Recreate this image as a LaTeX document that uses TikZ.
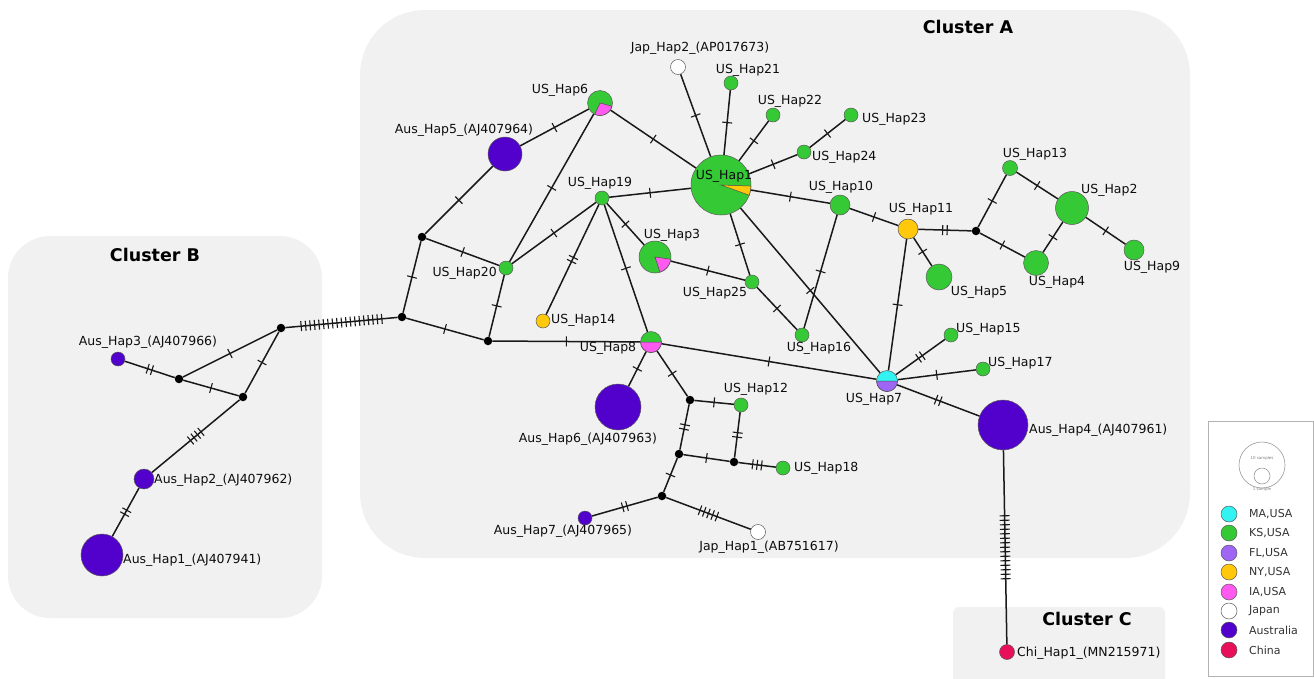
\documentclass[tikz,border=0pt]{standalone}
\usepackage{fontspec}
\setmainfont{DejaVu Sans}
\usetikzlibrary{decorations.markings,calc}
\definecolor{panelgray}{HTML}{F1F1F1}
\definecolor{mac}{HTML}{33F2F2}
\definecolor{ksc}{HTML}{36C936}
\definecolor{flc}{HTML}{9F66F5}
\definecolor{nyc}{HTML}{FFC80A}
\definecolor{iac}{HTML}{FF5AF0}
\definecolor{ausc}{HTML}{5200CC}
\definecolor{chic}{HTML}{E8105A}
\begin{document}
\begin{tikzpicture}[x=1pt,y=-1pt,
  edge/.style={draw=black!90, line width=1.5pt},
  hap/.style={circle, draw=black!65, line width=0.5pt, inner sep=0pt, minimum size=#1},
  med/.style={circle, fill=black, inner sep=0pt, minimum size=8.5pt},
  lab/.style={font=\fontsize{12.5}{13}\selectfont, text=black!95, inner sep=0pt},
  ttl/.style={font=\fontsize{17.5}{18}\selectfont\bfseries, inner sep=0pt},
  leg/.style={font=\fontsize{11}{12}\selectfont, text=black!80, inner sep=0pt, anchor=west},
  mut/.style={postaction={decorate,decoration={markings,mark=at position 0.5 with {\foreach \k in {1,...,#1}{\draw[line width=1.1pt,black!90] ({(\k-(#1+1)/2)*4.5pt},-5pt) -- ++(0,10pt);}}}}}
]
\useasboundingbox (0,0) rectangle (1314,678);
% panels
\fill[panelgray, rounded corners=42pt] (8,236) rectangle (322,618);
\fill[panelgray, rounded corners=65pt] (360,10) rectangle (1190,558);
\fill[panelgray, rounded corners=6pt] (953,607) rectangle (1165,690);
\node[ttl] (tB) at (155,255) {Cluster B};
\node[ttl] (tA) at (968,27) {Cluster A};
\node[ttl] (tC) at (1087,619) {Cluster C};

% ---- nodes: cluster B
\node[hap=14pt, fill=ausc] (aus3) at (118,359) {};
\node[med] (b1) at (179,379) {};
\node[med] (b2) at (243,397) {};
\node[med] (b3) at (281,328) {};
\node[hap=20pt, fill=ausc] (aus2) at (144,479) {};
\node[hap=42pt, fill=ausc] (aus1) at (102,555) {};
% ---- cluster A
\node[med] (b4) at (402,317) {};
\node[med] (a1) at (422,237) {};
\node[med] (a3) at (488,341) {};
\node[hap=34pt, fill=ausc] (aus5) at (505,154) {};
\node[hap=25pt, fill=ksc] (h6) at (600,103) {};
\node[hap=14pt, fill=ksc] (h20) at (506,268) {};
\node[hap=14pt, fill=ksc] (h19) at (602,198) {};
\node[hap=60pt, fill=ksc] (h1) at (721,185) {};
\node[hap=14pt, fill=nyc] (h14) at (543,321) {};
\node[hap=32pt, fill=ksc] (h3) at (655,257) {};
\node[hap=21pt, fill=ksc] (h8) at (651,342) {};
\node[hap=14pt, fill=ksc] (h25) at (752,282) {};
\node[hap=15pt, fill=white] (jap2) at (678,67) {};
\node[hap=14pt, fill=ksc] (h21) at (731,83) {};
\node[hap=14pt, fill=ksc] (h22) at (773,115) {};
\node[hap=14pt, fill=ksc] (h23) at (851,115) {};
\node[hap=14pt, fill=ksc] (h24) at (804,152) {};
\node[hap=20pt, fill=ksc] (h10) at (840,205) {};
\node[hap=20pt, fill=nyc] (h11) at (908,229) {};
\node[med] (a4) at (976,231) {};
\node[hap=15pt, fill=ksc] (h13) at (1010,168) {};
\node[hap=33pt, fill=ksc] (h2) at (1072,208) {};
\node[hap=25pt, fill=ksc] (h4) at (1036,263) {};
\node[hap=20pt, fill=ksc] (h9) at (1134,250) {};
\node[hap=26pt, fill=ksc] (h5) at (939,277) {};
\node[hap=14pt, fill=ksc] (h16) at (802,335) {};
\node[hap=14pt, fill=ksc] (h15) at (951,335) {};
\node[hap=14pt, fill=ksc] (h17) at (983,369) {};
\node[hap=21pt, fill=mac] (h7) at (887,381) {};
\node[hap=50pt, fill=ausc] (aus4) at (1003,425) {};
\node[hap=46pt, fill=ausc] (aus6) at (618,407) {};
\node[med] (c1) at (690,400) {};
\node[hap=14pt, fill=ksc] (h12) at (741,405) {};
\node[med] (c2) at (679,454) {};
\node[med] (c3) at (734,462) {};
\node[hap=14pt, fill=ksc] (h18) at (783,468) {};
\node[med] (c4) at (662,496) {};
\node[hap=14pt, fill=ausc] (aus7) at (585,518) {};
\node[hap=15pt, fill=white] (jap1) at (758,532) {};
% ---- cluster C
\node[hap=15pt, fill=chic] (chi1) at (1007,652) {};

% ---- edges
\draw[edge, mut=2] (aus3) -- (b1);
\draw[edge, mut=1] (b1) -- (b3);
\draw[edge, mut=1] (b1) -- (b2);
\draw[edge, mut=1] (b2) -- (b3);
\draw[edge, mut=4] (b2) -- (aus2);
\draw[edge, mut=2] (aus2) -- (aus1);
\draw[edge, mut=19] (b3) -- (b4);
\draw[edge, mut=1] (b4) -- (a1);
\draw[edge, mut=1] (b4) -- (a3);
\draw[edge, mut=1] (a1) -- (aus5);
\draw[edge, mut=1] (a1) -- (h20);
\draw[edge, mut=1] (aus5) -- (h6);
\draw[edge, mut=1] (h6) -- (h20);
\draw[edge, mut=1] (h6) -- (h1);
\draw[edge, mut=1] (h20) -- (a3);
\draw[edge, mut=1] (h20) -- (h19);
\draw[edge, mut=1] (h19) -- (h1);
\draw[edge, mut=2] (h19) -- (h14);
\draw[edge, mut=1] (h19) -- (h3);
\draw[edge, mut=1] (h19) -- (h8);
\draw[edge, mut=1] (a3) -- (h8);
\draw[edge, mut=1] (h3) -- (h25);
\draw[edge, mut=1] (h1) -- (jap2);
\draw[edge, mut=1] (h1) -- (h21);
\draw[edge, mut=1] (h1) -- (h22);
\draw[edge, mut=1] (h1) -- (h24);
\draw[edge, mut=1] (h24) -- (h23);
\draw[edge, mut=1] (h1) -- (h10);
\draw[edge, mut=1] (h1) -- (h25);
\draw[edge, mut=1] (h1) -- (h7);
\draw[edge, mut=1] (h25) -- (h16);
\draw[edge, mut=1] (h10) -- (h16);
\draw[edge, mut=1] (h10) -- (h11);
\draw[edge, mut=2] (h11) -- (a4);
\draw[edge, mut=1] (h11) -- (h5);
\draw[edge, mut=1] (h11) -- (h7);
\draw[edge, mut=1] (a4) -- (h13);
\draw[edge, mut=1] (a4) -- (h4);
\draw[edge, mut=1] (h13) -- (h2);
\draw[edge, mut=1] (h4) -- (h2);
\draw[edge, mut=1] (h2) -- (h9);
\draw[edge, mut=1] (h8) -- (h7);
\draw[edge, mut=2] (h7) -- (h15);
\draw[edge, mut=1] (h7) -- (h17);
\draw[edge, mut=2] (h7) -- (aus4);
\draw[edge, mut=15] (aus4) -- (chi1);
\draw[edge, mut=1] (h8) -- (aus6);
\draw[edge, mut=1] (h8) -- (c1);
\draw[edge, mut=1] (c1) -- (h12);
\draw[edge, mut=2] (c1) -- (c2);
\draw[edge, mut=2] (h12) -- (c3);
\draw[edge, mut=1] (c2) -- (c3);
\draw[edge, mut=3] (c3) -- (h18);
\draw[edge, mut=1] (c2) -- (c4);
\draw[edge, mut=2] (c4) -- (aus7);
\draw[edge, mut=5] (c4) -- (jap1);

% ---- pie slices
\filldraw[fill=nyc, draw=black!70, line width=0.5pt] (h1.center) -- ++(-20:30pt) arc[start angle=-20, end angle=-2, radius=30pt] -- cycle;
\filldraw[fill=iac, draw=black!70, line width=0.5pt] (h6.center) -- ++(-115:12.5pt) arc[start angle=-115, end angle=-15, radius=12.5pt] -- cycle;
\filldraw[fill=iac, draw=black!70, line width=0.5pt] (h3.center) -- ++(-72:16pt) arc[start angle=-72, end angle=-8, radius=16pt] -- cycle;
\filldraw[fill=iac, draw=black!70, line width=0.5pt] ($(h8.center)+(-10.5pt,0pt)$) arc[start angle=180, end angle=360, radius=10.5pt] -- cycle;
\filldraw[fill=flc, draw=black!70, line width=0.5pt] ($(h7.center)+(-10.5pt,0pt)$) arc[start angle=180, end angle=360, radius=10.5pt] -- cycle;

% ---- labels
\node[lab] (lAus3) at (148,342) {Aus\_Hap3\_(AJ407966)};
\node[lab, anchor=west] (lAus2) at (154,480) {Aus\_Hap2\_(AJ407962)};
\node[lab, anchor=west] (lAus1) at (123,560) {Aus\_Hap1\_(AJ407941)};
\node[lab] (lJap2) at (700,48) {Jap\_Hap2\_(AP017673)};
\node[lab] (l21) at (748,70) {US\_Hap21};
\node[lab] (l22) at (790,101) {US\_Hap22};
\node[lab, anchor=west] (l23) at (862,119) {US\_Hap23};
\node[lab, anchor=west] (l24) at (812,157) {US\_Hap24};
\node[lab] (l6) at (560,90) {US\_Hap6};
\node[lab] (lAus5) at (464,130) {Aus\_Hap5\_(AJ407964)};
\node[lab] (l1) at (724,176) {US\_Hap1};
\node[lab] (l19) at (600,183) {US\_Hap19};
\node[lab] (l3) at (672,235) {US\_Hap3};
\node[lab, anchor=east] (l20) at (497,273) {US\_Hap20};
\node[lab] (l25) at (715,293) {US\_Hap25};
\node[lab, anchor=west] (l14) at (551,320) {US\_Hap14};
\node[lab] (l8) at (608,348) {US\_Hap8};
\node[lab] (l10) at (841,187) {US\_Hap10};
\node[lab] (l11) at (921,209) {US\_Hap11};
\node[lab] (l13) at (1035,154) {US\_Hap13};
\node[lab, anchor=west] (l2) at (1081,190) {US\_Hap2};
\node[lab] (l4) at (1057,282) {US\_Hap4};
\node[lab] (l9) at (1152,267) {US\_Hap9};
\node[lab] (l5) at (979,292) {US\_Hap5};
\node[lab] (l16) at (819,348) {US\_Hap16};
\node[lab, anchor=west] (l15) at (956,329) {US\_Hap15};
\node[lab, anchor=west] (l17) at (988,363) {US\_Hap17};
\node[lab] (l7) at (874,399) {US\_Hap7};
\node[lab, anchor=west] (lAus4) at (1029,430) {Aus\_Hap4\_(AJ407961)};
\node[lab, anchor=west] (lChi) at (1017,653) {Chi\_Hap1\_(MN215971)};
\node[lab] (l12) at (756,389) {US\_Hap12};
\node[lab] (lAus6) at (588,439) {Aus\_Hap6\_(AJ407963)};
\node[lab, anchor=west] (l18) at (794,468) {US\_Hap18};
\node[lab] (lAus7) at (563,531) {Aus\_Hap7\_(AJ407965)};
\node[lab] (lJap1) at (769,547) {Jap\_Hap1\_(AB751617)};

% ---- legend
\draw[draw=gray!60, line width=1pt, fill=white] (1208,421) rectangle (1313,676);
\node[circle, draw=gray!80, line width=0.6pt, inner sep=0pt, minimum size=46pt] (lgbig) at (1262,465) {};
\node[circle, draw=gray!80, line width=0.6pt, inner sep=0pt, minimum size=16pt] (lgsmall) at (1262,476) {};
\node[font=\fontsize{4}{4}\selectfont, text=gray, inner sep=0pt] (lg10) at (1262,458) {10 samples};
\node[font=\fontsize{4}{4}\selectfont, text=gray, inner sep=0pt] (lg1) at (1262,489) {1 sample};
\foreach \c/\t/\y [count=\i] in {mac/{MA,USA}/514, ksc/{KS,USA}/533, flc/{FL,USA}/553, nyc/{NY,USA}/572, iac/{IA,USA}/592, white/Japan/611, ausc/Australia/630, chic/China/650}{
  \node[hap=16pt, fill=\c] (lgc\i) at (1229,\y) {};
  \node[leg] (lgt\i) at (1249,\y) {\t};
}
\end{tikzpicture}
\end{document}
